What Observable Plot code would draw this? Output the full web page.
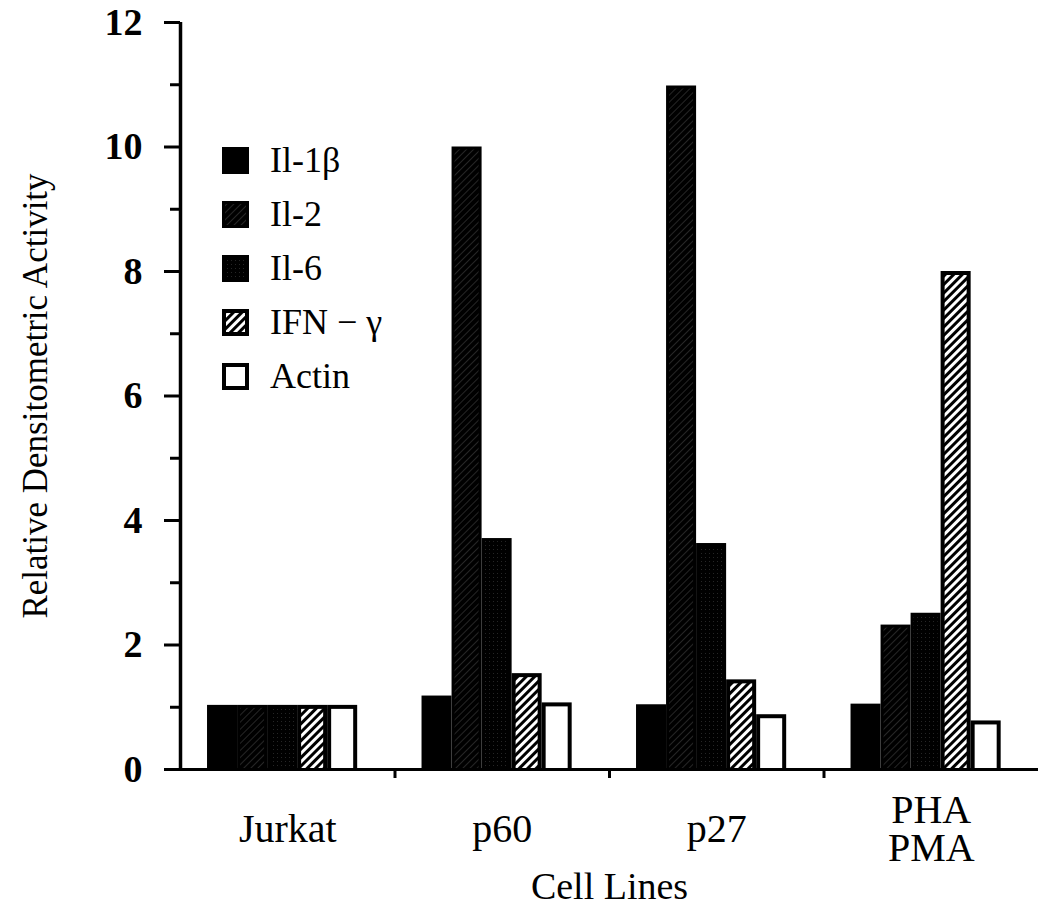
<!DOCTYPE html>
<html>
<head>
<meta charset="utf-8">
<script src="https://cdn.jsdelivr.net/npm/d3@7"></script>
<script src="https://cdn.jsdelivr.net/npm/@observablehq/plot@0.6"></script>
<style>
  body { margin: 0; background: #fff; }
  #chart { position: relative; width: 1038px; height: 918px; overflow: hidden; }
  #defs { position: absolute; width: 0; height: 0; }
  .legend { position: absolute; left: 222px; top: 133px; font-family: "Liberation Serif", "Times New Roman", serif; font-size: 36px; color: #000; }
  .legend .row { display: flex; align-items: center; height: 54px; }
  .legend .row svg { flex: none; margin-right: 21px; }
  .legend .row span { line-height: 1; }
</style>
</head>
<body>
<svg id="defs" aria-hidden="true">
  <defs>
    <pattern id="pIl2" patternUnits="userSpaceOnUse" width="5" height="5" patternTransform="rotate(45)">
      <rect width="5" height="5" fill="#000"></rect>
      <rect width="1" height="5" fill="#262626"></rect>
    </pattern>
    <pattern id="pIl6" patternUnits="userSpaceOnUse" width="4" height="4">
      <rect width="4" height="4" fill="#000"></rect>
      <rect x="1" y="1" width="1" height="1" fill="#262626"></rect>
    </pattern>
    <pattern id="pIfn" patternUnits="userSpaceOnUse" width="6" height="6" patternTransform="rotate(45)">
      <rect width="6" height="6" fill="#000"></rect>
      <rect width="3" height="6" fill="#fff"></rect>
    </pattern>
  </defs>
</svg>
<div id="chart"></div>
<script>
// ---- data ----
const cellLines = ["Jurkat", "p60", "p27", "PHA\nPMA"];
const cytokines = ["Il-1β", "Il-2", "Il-6", "IFN − γ", "Actin"];
const jurkat = [1.03, 1.03, 1.03, 1.03, 1.03];
const p60 = [1.18, 10.0, 3.71, 1.54, 1.07];
const p27 = [1.04, 10.98, 3.63, 1.44, 0.88];
const phaPma = [1.05, 2.32, 2.51, 8.0, 0.78];
const yTicks = [0, 2, 4, 6, 8, 10, 12];
const yMinorTicks = [1, 3, 5, 7, 9, 11];
const xAxisLabel = "Cell Lines";
const yAxisLabel = "Relative Densitometric Activity";

// ---- styling ----
const innerFill = [null, "url(#pIl2)", "url(#pIl6)", "url(#pIfn)", "#fff"];
const innerInset = [0, 3, 3, 4, 4];
const groupStart = 0.126, barStep = 0.14;
const serif = "Liberation Serif, Times New Roman, serif";

const values = [jurkat, p60, p27, phaPma];
const rows = cellLines.flatMap((c, ci) =>
  cytokines.map((k, si) => ({cell: c, ci, cytokine: k, si, value: values[ci][si]})));
const x1 = d => d.ci + groupStart + d.si * barStep;
const x2 = d => d.ci + groupStart + (d.si + 1) * barStep;

const overlayMarks = [1, 2, 3, 4].map(si =>
  Plot.rectY(rows.filter(d => d.si === si), {
    x1, x2, y: "value",
    fill: innerFill[si],
    insetLeft: innerInset[si], insetRight: innerInset[si], insetTop: innerInset[si]
  }));

const plot = Plot.plot({
  width: 1038,
  height: 918,
  marginLeft: 180,
  marginRight: 0,
  marginTop: 22,
  marginBottom: 149,
  style: {fontFamily: serif, fontSize: "36px", background: "white", color: "black", overflow: "visible"},
  x: {domain: [0, cellLines.length], axis: null},
  y: {domain: [0, 12], axis: null},
  marks: [
    Plot.rectY(rows, {x1, x2, y: "value", fill: "black"}),
    ...overlayMarks,
    Plot.ruleX([0], {strokeWidth: 3.5}),
    Plot.ruleY([0], {strokeWidth: 3}),
    Plot.axisY(yTicks, {tickSize: 16, tickPadding: 22, strokeWidth: 3, fontWeight: "bold", fontSize: 38, tickFormat: d3.format("d"), label: null}),
    Plot.axisY(yMinorTicks, {tickSize: 10, strokeWidth: 3, tickFormat: () => "", label: null}),
    Plot.axisX(d3.range(1, cellLines.length), {tickSize: 9, strokeWidth: 3, tickFormat: () => "", label: null}),
    Plot.text(cellLines, {x: (d, i) => i + 0.5, frameAnchor: "bottom", dy: 60, lineAnchor: "middle", lineHeight: 0.95, fontSize: 40}),
    Plot.text([xAxisLabel], {frameAnchor: "bottom", dy: 129, fontSize: 38}),
    Plot.text([yAxisLabel], {frameAnchor: "left", dx: -145, rotate: -90, textAnchor: "middle", fontSize: 35})
  ]
});
const chart = document.getElementById("chart");
chart.appendChild(plot);

// ---- legend (HTML overlay inside the plot area) ----
const legend = document.createElement("div");
legend.className = "legend";
cytokines.forEach((k, si) => {
  const row = document.createElement("div");
  row.className = "row";
  const s = 27, ins = innerInset[si];
  let inner = "";
  if (innerFill[si]) inner = `<rect x="${ins}" y="${ins}" width="${s - 2 * ins}" height="${s - 2 * ins}" fill="${innerFill[si]}"></rect>`;
  row.innerHTML = `<svg width="${s}" height="${s}"><rect width="${s}" height="${s}" fill="#000"></rect>${inner}</svg><span></span>`;
  row.querySelector("span").textContent = k;
  legend.appendChild(row);
});
chart.appendChild(legend);
</script>
</body>
</html>
